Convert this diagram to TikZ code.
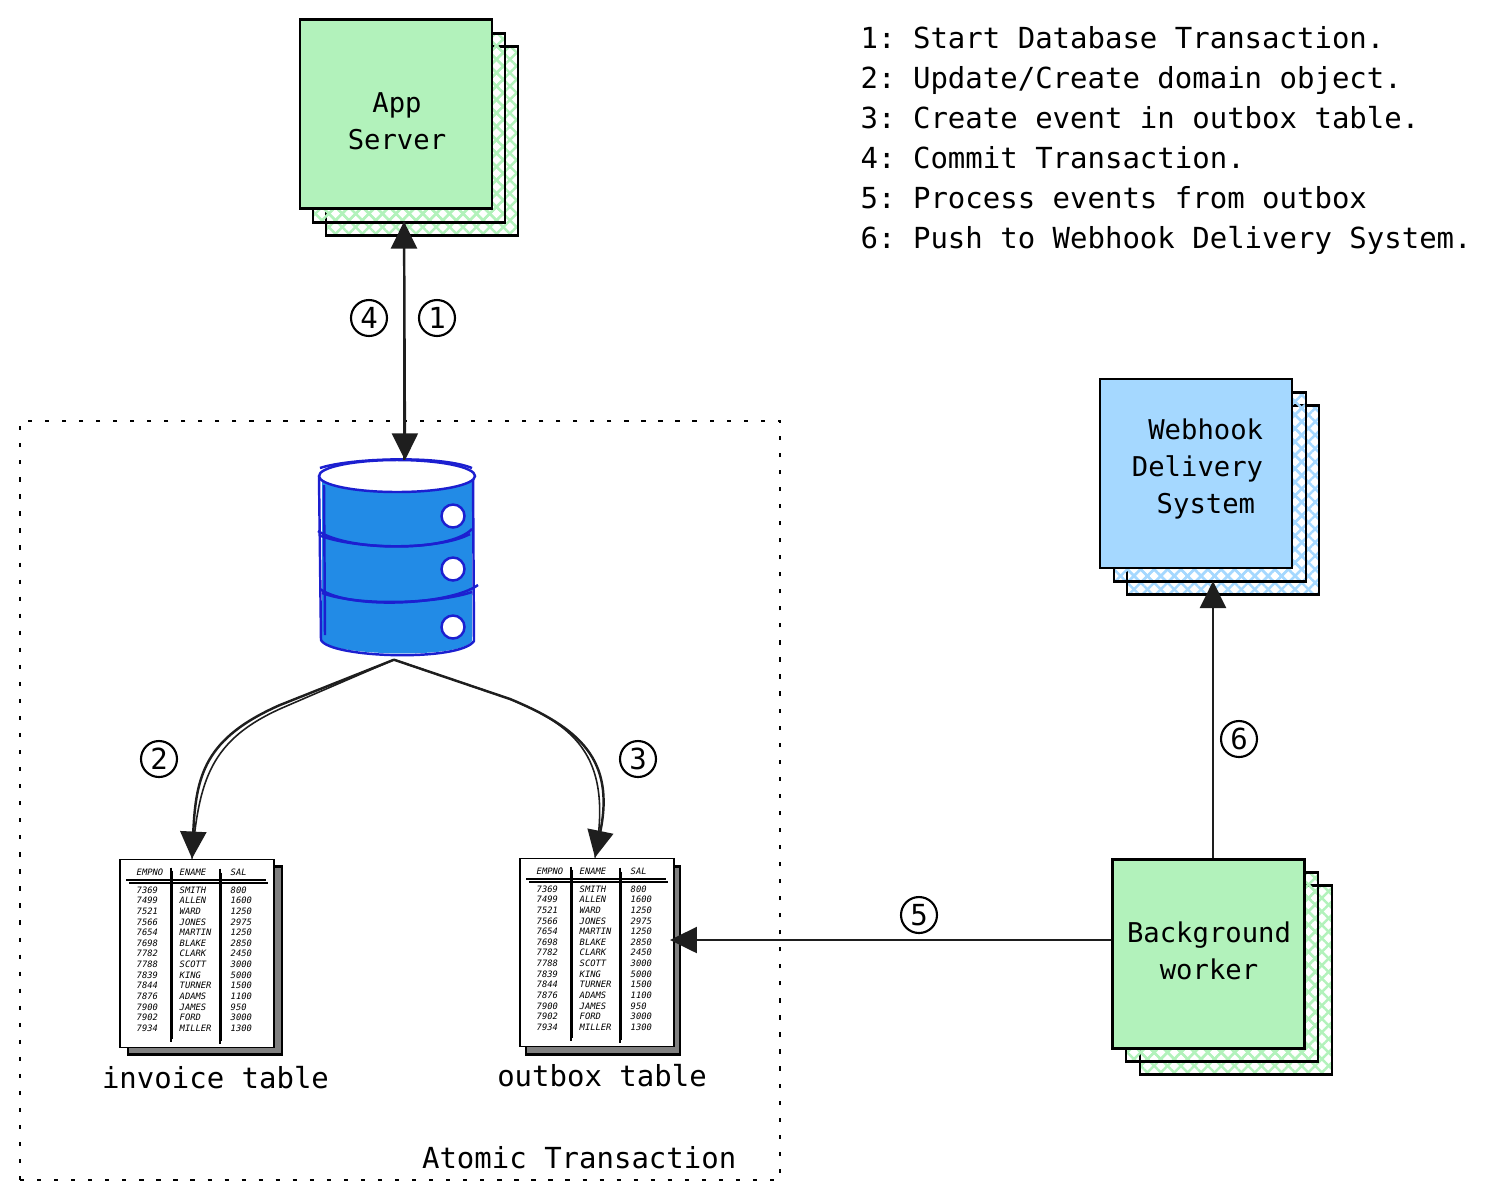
\documentclass[tikz,border=0pt]{standalone}
\usepackage{fontspec}
\usepackage{xcolor}
\setmonofont{DejaVu Sans Mono}
\usetikzlibrary{arrows.meta,patterns.meta}

\definecolor{boxgreen}{HTML}{B2F2BB}
\definecolor{boxblue}{HTML}{A5D8FF}
\definecolor{dbblue}{HTML}{228BE6}
\definecolor{dbline}{HTML}{1C1FD0}
\definecolor{inkline}{HTML}{1E1E1E}

\newcommand{\legendfont}{\ttfamily\fontsize{8.25}{11.38}\selectfont}
\newcommand{\boxfont}{\ttfamily\fontsize{7.75}{10.6}\selectfont}
\newcommand{\tablefont}{\ttfamily\itshape\fontsize{2.5}{3}\selectfont}

\tikzset{
  stackfront/.style={draw,line width=0.6pt,minimum width=1.92cm,minimum height=1.89cm,inner sep=0pt},
  stacktext/.style={inner sep=0pt,align=center,font=\boxfont},
  greenback/.style={stackfront,
    preaction={pattern={Lines[angle=45,distance=2.7pt,line width=0.7pt]},pattern color=boxgreen},
    preaction={pattern={Lines[angle=-45,distance=2.7pt,line width=0.7pt]},pattern color=boxgreen}},
  blueback/.style={stackfront,
    preaction={pattern={Lines[angle=45,distance=2.7pt,line width=0.7pt]},pattern color=boxblue},
    preaction={pattern={Lines[angle=-45,distance=2.7pt,line width=0.7pt]},pattern color=boxblue}},
  flowpath/.style={draw=inkline,line width=0.7pt,-{Triangle[length=0.27cm,width=0.26cm]}},
  flowtwin/.style={draw=inkline,line width=0.45pt},
  badge/.style={draw,circle,line width=0.6pt,minimum size=0.36cm,inner sep=0pt,font=\legendfont},
  tablesheet/.style={draw,line width=0.55pt,fill=white,minimum width=1.54cm,minimum height=1.88cm,inner sep=0pt},
  tableshadow/.style={draw,line width=0.6pt,fill=black!50,minimum width=1.54cm,minimum height=1.88cm,inner sep=0pt},
  tablecell/.style={anchor=west,inner sep=0pt,font=\tablefont},
  tablerule/.style={line width=0.55pt},
  caption/.style={inner sep=0pt,font=\legendfont},
  dbstroke/.style={draw=dbline,line width=0.7pt},
}

% one employee sheet inside a table node
\newcommand{\emprows}[1]{
\begin{scope}[shift={(#1.north west)}]
  \node[tablecell] (#1no) at (0.17,0.14) {EMPNO};
  \node[tablecell] (#1na) at (0.60,0.14) {ENAME};
  \node[tablecell] (#1sa) at (1.11,0.14) {SAL};
  \draw[tablerule] (0.07,0.21)--(1.47,0.21);
  \draw[tablerule] (0.10,0.24)--(1.49,0.24);
  \draw[tablerule] (0.52,0.09)--(0.52,1.83);
  \draw[tablerule] (0.53,0.12)--(0.53,1.80);
  \draw[tablerule] (1.01,0.10)--(1.01,1.85);
  \draw[tablerule] (1.02,0.14)--(1.02,1.82);
  \foreach \no/\na/\sa [count=\r from 0] in {7369/SMITH/800,7499/ALLEN/1600,7521/WARD/1250,7566/JONES/2975,
    7654/MARTIN/1250,7698/BLAKE/2850,7782/CLARK/2450,7788/SCOTT/3000,7839/KING/5000,7844/TURNER/1500,
    7876/ADAMS/1100,7900/JAMES/950,7902/FORD/3000,7934/MILLER/1300}{
    \node[tablecell] at (0.17,0.315+0.1062*\r) {\no};
    \node[tablecell] at (0.60,0.315+0.1062*\r) {\na};
    \node[tablecell] at (1.11,0.315+0.1062*\r) {\sa};
  }
\end{scope}
}

\begin{document}
\begin{tikzpicture}[y=-1cm]
\useasboundingbox (0,0) rectangle (14.95,12);

% transaction frame
\node[draw,line width=0.7pt,dash pattern=on 1.2pt off 3.65pt,minimum width=7.60cm,minimum height=7.59cm,inner sep=0pt] (frame) at (4.00,8.005) {};
\node[caption,anchor=east] (atomic) at (7.37,11.58) {Atomic Transaction};

% app server
\node[greenback] (appc) at (4.22,1.41) {};
\node[greenback] (appb) at (4.09,1.28) {};
\node[stackfront,fill=boxgreen] (app) at (3.96,1.14) {};
\node[stacktext] (applabel) at (3.97,1.21) {App\\Server};

% webhook system
\node[blueback] (hookc) at (12.23,5.00) {};
\node[blueback] (hookb) at (12.10,4.87) {};
\node[stackfront,fill=boxblue] (hook) at (11.96,4.735) {};
\node[stacktext,align=right] (hooklabel) at (11.975,4.69) {Webhook\\Delivery\\System\hspace*{0.08cm}};

% background worker
\node[greenback] (workerc) at (12.36,9.80) {};
\node[greenback] (workerb) at (12.22,9.67) {};
\node[stackfront,fill=boxgreen] (worker) at (12.085,9.54) {};
\node[stacktext] (workerlabel) at (12.09,9.51) {Background\\worker};

% database
\node[minimum width=1.56cm,minimum height=1.98cm,inner sep=0pt] (db) at (3.97,5.60) {};
\fill[dbblue] (3.22,4.76) -- (3.22,6.41) .. controls (3.30,6.55) and (4.60,6.60) .. (4.72,6.41) -- (4.72,4.76) -- cycle;
\draw[dbstroke] (3.19,4.77) -- (3.21,6.40) .. controls (3.30,6.58) and (4.60,6.62) .. (4.74,6.41) -- (4.73,4.74);
\draw[dbstroke] (3.24,4.85) -- (3.25,6.35);
\draw[dbstroke,fill=white] (3.97,4.76) ellipse (0.78 and 0.16);
\draw[dbstroke] (3.20,4.68) .. controls (3.50,4.58) and (4.40,4.55) .. (4.72,4.68);
\draw[dbstroke] (3.18,5.31) .. controls (3.50,5.52) and (4.50,5.52) .. (4.72,5.29);
\draw[dbstroke] (3.21,5.36) .. controls (3.60,5.50) and (4.40,5.50) .. (4.70,5.34);
\draw[dbstroke] (3.20,5.89) .. controls (3.50,6.10) and (4.50,6.05) .. (4.78,5.85);
\draw[dbstroke] (3.22,5.93) .. controls (3.60,6.07) and (4.40,6.03) .. (4.72,5.92);
\foreach \y in {5.16,5.69,6.27}{
  \draw[dbstroke,fill=white] (4.53,\y) circle (0.115);
}

% tables
\node[tableshadow] (invoiceback) at (2.05,9.605) {};
\node[tablesheet] (invoice) at (1.97,9.535) {};
\emprows{invoice}
\node[caption] (invoicelabel) at (2.155,10.78) {invoice table};

\node[tableshadow] (outboxback) at (6.03,9.605) {};
\node[tablesheet] (outbox) at (5.97,9.525) {};
\emprows{outbox}
\node[caption] (outboxlabel) at (6.02,10.76) {outbox table};

% connectors
\draw[flowpath,shorten >=0.12cm] ([xshift=0.07cm]db.north) -- ([xshift=0.07cm]db.north |- app.south);
\draw[flowpath,shorten <=0.12cm] ([xshift=0.08cm]app.south) -- ([xshift=0.08cm]db.north);
\draw[flowpath] ([xshift=-0.03cm]db.south) -- (2.80,7.05) .. controls (2.05,7.38) and (1.96,7.75) .. ([xshift=-0.05cm]invoice.north);
\draw[flowtwin] ([xshift=-0.03cm]db.south) -- (2.82,7.08) .. controls (2.10,7.40) and (1.99,7.80) .. ([xshift=-0.05cm]invoice.north);
\draw[flowpath] ([xshift=-0.03cm]db.south) -- (5.10,6.99) .. controls (5.80,7.28) and (6.15,7.60) .. ([xshift=-0.02cm]outbox.north);
\draw[flowtwin] ([xshift=-0.03cm]db.south) -- (5.10,6.99) .. controls (5.78,7.27) and (6.13,7.59) .. ([xshift=-0.02cm]outbox.north);
\draw[flowpath,shorten >=-0.05cm] ([yshift=0.14cm]worker.west) -- ([yshift=0.14cm]worker.west -| outbox.east);
\draw[flowpath,shorten >=0.12cm] ([xshift=0.045cm]worker.north) -- ([xshift=0.045cm]worker.north |- hook.south);

% step badges
\node[badge] (stepd) at (3.69,3.18) {4};
\node[badge] (stepa) at (4.37,3.18) {1};
\node[badge] (stepb) at (1.59,7.59) {2};
\node[badge] (stepc) at (6.38,7.59) {3};
\node[badge] (stepe) at (9.19,9.15) {5};
\node[badge] (stepf) at (12.39,7.39) {6};

% legend
\node[caption,anchor=north west,align=left] (legend) at (8.60,0.26) {1: Start Database Transaction.\\
2: Update/Create domain object.\\
3: Create event in outbox table.\\
4: Commit Transaction.\\
5: Process events from outbox\\
6: Push to Webhook Delivery System.};
\end{tikzpicture}
\end{document}
